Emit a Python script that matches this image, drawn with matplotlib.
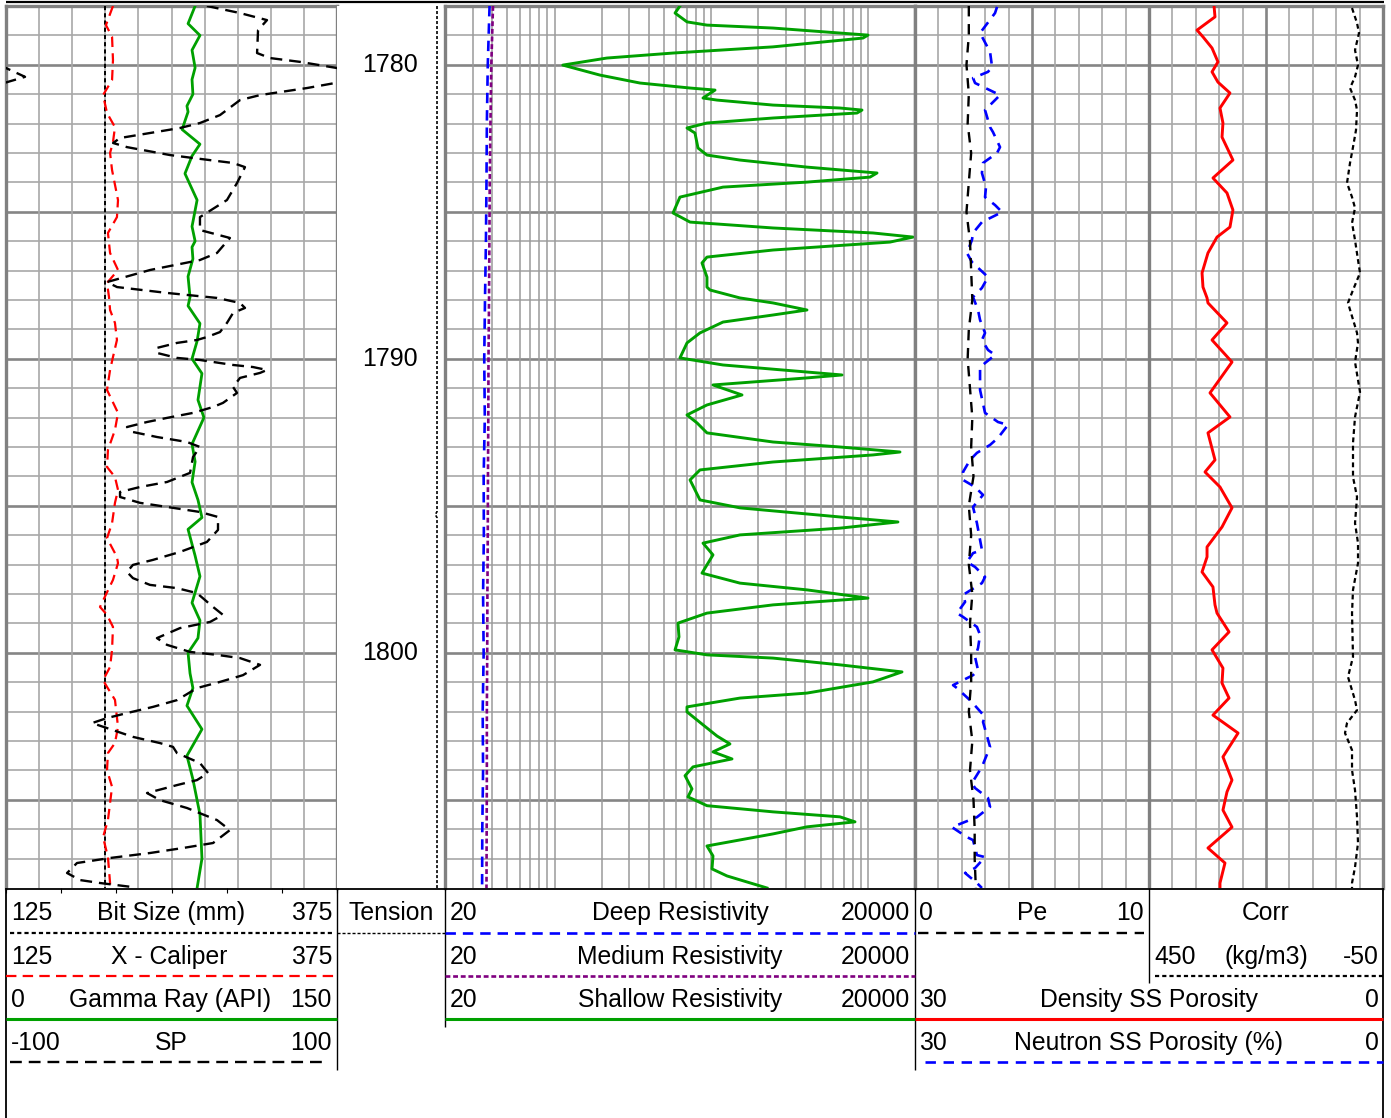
import numpy as np
import matplotlib.pyplot as plt

plt.rcParams['font.family'] = ['Liberation Sans', 'DejaVu Sans']
plt.rcParams['lines.scale_dashes'] = False
plt.rcParams['lines.solid_joinstyle'] = 'round'
plt.rcParams['lines.dash_joinstyle'] = 'round'

W, H = 1391, 1118
TOP, BOT = 6, 888            # pixel rows of the log area
DEPTH_TOP, DEPTH_BOT = 1778, 1808

# ------------------ curve data (depth in m) ------------------
GR_DEPTH = [1778.0, 1778.6, 1779.0, 1779.5, 1780.1, 1780.5, 1781.0, 1781.4, 1781.6, 1782.2,
            1782.7, 1783.1, 1783.7, 1784.6, 1785.5, 1786.0, 1786.2, 1786.6, 1787.2, 1787.9,
            1788.2, 1788.8, 1789.4, 1790.0, 1790.5, 1791.4, 1792.0, 1792.9, 1793.5, 1794.2,
            1794.8, 1795.4, 1795.8, 1796.7, 1797.4, 1798.3, 1798.9, 1799.5, 1800.0, 1800.7,
            1801.2, 1801.8, 1802.6, 1803.5, 1804.3, 1805.5, 1807.0, 1808.0]
GR = [85.7, 82.5, 87.9, 84.3, 85.7, 84.3, 84.7, 82.0, 82.5, 79.8,
      87.9, 84.3, 81.1, 86.6, 84.3, 85.7, 84.3, 84.7, 82.5, 83.4,
      82.5, 87.9, 86.6, 84.3, 88.8, 87.0, 89.7, 84.3, 85.7, 84.3,
      87.0, 88.8, 82.5, 85.7, 87.9, 84.3, 87.9, 87.0, 82.5, 83.4,
      84.7, 82.0, 88.8, 82.0, 84.7, 87.9, 88.8, 86.6]

BIT_DEPTH = [1778.0, 1808.0]
BIT_SIZE = [200.0, 200.0]

CAL_DEPTH = [1778.0, 1778.65, 1779.05, 1779.84, 1780.52, 1781.03, 1781.64, 1782.12, 1782.63, 1783.0,
             1783.58, 1784.6, 1785.18, 1785.72, 1786.4, 1786.98, 1787.42, 1787.9, 1788.34, 1788.78,
             1789.36, 1789.94, 1790.38, 1791.06, 1791.84, 1792.42, 1793.1, 1793.68, 1794.02, 1794.46,
             1794.9, 1795.59, 1796.1, 1796.74, 1796.95, 1797.52, 1798.44, 1798.71, 1799.12, 1799.9,
             1800.48, 1800.93, 1801.16, 1801.6, 1802.52, 1803.07, 1803.41, 1803.99, 1804.56, 1805.69,
             1806.27, 1806.95, 1807.83, 1808.0]
CALIPER = [205.8, 200.5, 205.1, 205.8, 205.1, 198.3, 201.3, 207.3, 205.8, 203.6,
           205.1, 209.6, 208.8, 202.0, 203.6, 209.6, 201.3, 202.8, 203.6, 207.3,
           208.8, 205.8, 203.6, 201.3, 209.6, 207.3, 202.0, 201.3, 207.3, 209.6,
           207.3, 205.1, 201.3, 208.8, 209.6, 205.8, 196.0, 201.3, 205.8, 205.1,
           203.6, 198.3, 201.3, 207.3, 209.6, 207.3, 202.0, 201.3, 205.1, 202.0,
           198.3, 202.0, 203.6, 203.6]

SP_DEPTH = [1778.00, 1778.24, 1778.48, 1778.82, 1779.60, 1779.77, 1779.90, 1780.11, 1780.41, 1780.62,
            1780.79, 1781.03, 1781.20, 1781.71, 1781.98, 1782.15, 1782.32, 1782.49, 1782.66, 1782.80,
            1783.07, 1783.17, 1783.34, 1783.48, 1784.02, 1784.60, 1785.18, 1785.62, 1785.89, 1786.40,
            1786.64, 1786.98, 1787.39, 1787.56, 1787.76, 1787.93, 1788.10, 1788.27, 1788.44, 1788.78,
            1789.09, 1789.26, 1789.36, 1789.46, 1789.63, 1789.80, 1789.97, 1790.04, 1790.21, 1790.28,
            1790.38, 1790.48, 1790.65, 1790.96, 1791.16, 1791.50, 1791.64, 1791.84, 1792.01, 1792.15,
            1792.32, 1792.49, 1792.66, 1792.83, 1793.00, 1793.34, 1793.88, 1794.19, 1794.36, 1794.53,
            1794.70, 1794.90, 1795.07, 1795.21, 1795.38, 1795.82, 1796.23, 1796.57, 1796.84, 1797.01,
            1797.25, 1797.46, 1797.69, 1797.80, 1797.97, 1798.44, 1798.71, 1798.95, 1799.16, 1799.50,
            1799.73, 1799.97, 1800.07, 1800.18, 1800.41, 1800.76, 1800.99, 1801.20, 1801.61, 1801.84,
            1802.05, 1802.22, 1802.39, 1802.56, 1802.86, 1803.07, 1803.20, 1803.41, 1803.75, 1804.09,
            1804.33, 1804.50, 1804.77, 1805.01, 1805.28, 1805.69, 1806.03, 1806.47, 1806.64, 1806.81,
            1806.98, 1807.15, 1807.49, 1807.73, 1807.83, 1807.97]
SP = [21.4, 41.4, 57.7, 52.3, 51.7, 59.5, 77.6, 100.0, 111.5, 98.8,
      81.9, 53.5, 41.4, 29.3, 17.2, 5.1, -13.0, -31.1, -35.3, -26.9,
      -0.9, 13.0, 37.2, 44.4, 39.6, 33.5, 17.2, 17.2, 35.3, 27.5,
      17.2, -13.0, -39.0, -32.9, -2.7, 27.5, 41.4, 44.4, 37.2, 33.5,
      29.3, 21.4, 15.4, 3.3, -8.8, -8.8, 3.3, 17.2, 37.2, 49.2,
      57.7, 53.5, 41.4, 37.2, 39.6, 31.1, 25.1, 13.0, -2.7, -14.8,
      -26.9, -23.3, -8.8, 9.4, 17.2, 13.0, 11.2, -2.7, -19.0, -31.1,
      -31.1, -19.0, 0.9, 17.2, 28.1, 28.1, 21.4, 5.1, -11.2, -23.3,
      -26.9, -23.3, -13.0, 3.3, 15.4, 25.1, 31.1, 23.3, 5.1, -8.8,
      -2.7, 11.2, 27.5, 41.4, 53.5, 43.2, 29.3, 15.4, 3.3, -11.2,
      -26.9, -39.0, -48.0, -39.0, -23.3, -7.0, 0.9, 3.3, 17.2, 22.1,
      15.4, 3.3, -14.8, -7.0, 9.4, 27.5, 35.3, 25.1, 6.9, -13.0,
      -37.2, -57.1, -63.1, -55.3, -43.2, -23.3]

TENSION_DEPTH = [1778.0, 1795.2, 1795.3, 1795.4, 1808.0]
TENSION = [92.6, 92.6, 91.0, 92.6, 92.6]

SHAL_DEPTH = [1778.00, 1778.24, 1778.54, 1778.65, 1778.75, 1778.92, 1778.99, 1779.09, 1779.39, 1779.60,
              1779.77, 1780.01, 1780.35, 1780.62, 1780.79, 1780.86, 1781.13, 1781.20, 1781.37, 1781.47,
              1781.54, 1781.64, 1781.81, 1781.98, 1782.15, 1782.32, 1782.83, 1783.07, 1783.24, 1783.48,
              1783.68, 1783.82, 1783.99, 1784.16, 1784.50, 1785.04, 1785.35, 1785.55, 1785.72, 1785.86,
              1786.03, 1786.30, 1786.54, 1786.74, 1787.22, 1787.56, 1787.66, 1787.93, 1788.10, 1788.34,
              1788.51, 1788.75, 1789.12, 1789.46, 1789.97, 1790.21, 1790.45, 1790.55, 1790.65, 1790.89,
              1791.23, 1791.57, 1791.91, 1792.18, 1792.52, 1792.83, 1793.00, 1793.17, 1793.27, 1793.51,
              1793.78, 1794.12, 1794.80, 1795.07, 1795.38, 1795.55, 1795.76, 1795.99, 1796.27, 1796.67,
              1797.29, 1797.63, 1797.86, 1798.14, 1798.37, 1798.65, 1798.99, 1799.46, 1799.90, 1800.07,
              1800.18, 1800.41, 1800.65, 1800.99, 1801.37, 1801.54, 1801.84, 1802.01, 1802.45, 1802.83,
              1803.10, 1803.37, 1803.61, 1803.88, 1804.18, 1804.63, 1804.90, 1805.20, 1805.41, 1805.58,
              1805.75, 1805.92, 1806.16, 1806.57, 1806.91, 1807.35, 1807.59, 1808.00]
SHALLOW = [632, 588, 701, 940, 2482, 6640, 10020, 9312, 2482, 571,
           216, 113, 195, 351, 733, 1058, 887, 1089, 2482, 6640,
           9175, 8527, 2482, 940, 701, 788, 824, 940, 1527, 4088,
           11440, 10320, 4088, 1190, 632, 571, 733, 2482, 10780, 19420,
           13850, 2482, 940, 874, 940, 940, 983, 1527, 2482, 4088,
           2482, 1190, 848, 701, 632, 1190, 4088, 6840, 4088, 1027,
           1573, 940, 701, 812, 940, 2482, 6640, 16040, 10780, 2482,
           848, 733, 848, 1527, 6640, 15570, 6640, 1527, 887, 1027,
           874, 1527, 4088, 10020, 2482, 940, 614, 623, 588, 940,
           2482, 6640, 16520, 10780, 4088, 1527, 701, 701, 887, 1089,
           1318, 1027, 1358, 766, 681, 754, 711, 940, 2482, 6640,
           8280, 4088, 2482, 940, 1027, 1012, 1262, 2272]

RES_DEPTH = [1778, 1780, 1782, 1784, 1786, 1788, 1790, 1792, 1794, 1796, 1798, 1800, 1802, 1804, 1806, 1808]
DEEP = [38.5, 37.5, 37.0, 36.8, 36.5, 36.0, 35.6, 35.9, 35.3, 35.4, 35.0, 35.3, 34.8, 35.0, 34.6, 34.5]
MEDIUM = [40.5, 39.5, 39.0, 38.6, 38.4, 38.2, 37.9, 37.8, 37.6, 37.5, 37.3, 37.2, 37.0, 37.0, 36.9, 36.8]

PE_DEPTH = list(range(1778, 1809))
PE = [2.30, 2.30, 2.20, 2.30, 2.25, 2.40, 2.30, 2.20, 2.35, 2.40, 2.45, 2.30, 2.25, 2.35, 2.45, 2.40,
      2.50, 2.30, 2.40, 2.30, 2.45, 2.35, 2.40, 2.40, 2.30, 2.45, 2.35, 2.50, 2.55, 2.55, 2.60]

NPHI_DEPTH = [1778.03, 1778.24, 1778.92, 1779.56, 1780.07, 1780.24, 1780.45, 1780.62, 1781.03, 1781.54,
              1782.12, 1782.29, 1782.80, 1783.00, 1783.34, 1783.68, 1784.16, 1784.50, 1784.77, 1785.01,
              1785.35, 1785.72, 1785.96, 1786.40, 1786.71, 1787.22, 1787.59, 1787.90, 1788.34, 1788.68,
              1789.12, 1789.36, 1789.70, 1789.87, 1790.28, 1791.06, 1791.84, 1792.15, 1792.25, 1792.69,
              1792.93, 1793.20, 1793.44, 1793.85, 1794.12, 1794.36, 1794.63, 1795.04, 1795.59, 1796.16,
              1796.50, 1796.61, 1796.91, 1797.08, 1797.42, 1797.63, 1798.03, 1798.27, 1798.65, 1798.78,
              1799.12, 1799.39, 1799.84, 1800.14, 1800.59, 1800.76, 1801.10, 1801.20, 1801.65, 1802.18,
              1802.35, 1803.20, 1803.88, 1804.43, 1804.60, 1804.94, 1805.24, 1805.59, 1805.93, 1806.27,
              1806.37, 1806.88, 1806.95, 1807.32, 1807.49, 1807.83, 1808.00]
NPHI = [24.74, 24.87, 25.83, 25.19, 25.06, 25.32, 26.28, 26.15, 24.55, 25.51,
        25.19, 25.00, 24.55, 24.74, 25.64, 25.71, 25.45, 25.51, 24.87, 24.42,
        25.71, 26.28, 26.35, 26.67, 26.35, 25.32, 25.71, 26.28, 25.96, 25.83,
        25.51, 25.71, 25.32, 24.87, 25.83, 25.83, 25.51, 24.68, 24.04, 24.68,
        25.19, 26.03, 26.47, 26.92, 26.92, 26.15, 25.64, 26.28, 26.03, 25.83,
        25.71, 26.28, 26.67, 26.15, 25.51, 25.71, 26.92, 26.79, 27.31, 26.92,
        26.03, 25.83, 25.96, 26.15, 25.96, 26.28, 27.56, 27.31, 26.40, 25.51,
        25.64, 25.19, 25.71, 26.35, 26.15, 25.32, 25.19, 26.03, 27.63, 26.67,
        26.28, 26.03, 25.51, 26.15, 26.79, 26.03, 25.71]

DPHI_DEPTH = [1778.00, 1778.37, 1778.82, 1779.05, 1779.43, 1779.90, 1780.24, 1780.59, 1780.96, 1781.47,
              1781.98, 1782.46, 1783.24, 1783.85, 1784.36, 1784.94, 1785.52, 1785.86, 1786.40, 1787.08,
              1787.56, 1787.93, 1788.10, 1788.78, 1789.36, 1790.11, 1791.16, 1791.98, 1792.52, 1793.44,
              1793.85, 1794.36, 1795.07, 1795.72, 1796.40, 1796.74, 1797.25, 1797.76, 1798.37, 1798.65,
              1799.29, 1799.90, 1800.52, 1801.03, 1801.54, 1802.12, 1802.73, 1803.54, 1804.33, 1804.73,
              1805.35, 1805.93, 1806.64, 1807.15, 1807.83, 1808.00]
DPHI = [10.83, 10.77, 11.92, 11.54, 10.96, 10.58, 10.96, 10.58, 9.81, 10.45,
        10.26, 10.32, 9.62, 10.90, 10.00, 9.62, 9.81, 10.64, 11.22, 11.60,
        11.54, 11.28, 11.22, 10.00, 10.96, 9.68, 11.09, 9.81, 11.22, 10.77,
        11.41, 10.45, 9.68, 10.32, 11.28, 11.28, 11.60, 10.90, 10.77, 10.64,
        9.87, 10.96, 10.26, 10.32, 9.87, 10.90, 9.29, 10.26, 9.68, 10.00,
        10.26, 9.68, 11.22, 10.13, 10.45, 10.45]

CORR_DEPTH = [1778.07, 1778.58, 1778.92, 1779.50, 1780.01, 1780.41, 1780.79, 1781.20, 1781.54, 1782.22,
              1782.80, 1783.34, 1784.02, 1784.50, 1784.87, 1785.38, 1785.96, 1786.64, 1787.08, 1787.66,
              1788.10, 1789.12, 1789.46, 1790.11, 1791.13, 1791.98, 1792.86, 1794.02, 1794.70, 1795.59,
              1796.27, 1796.95, 1797.86, 1798.65, 1800.14, 1800.82, 1801.61, 1801.95, 1802.39, 1802.73,
              1803.31, 1803.99, 1804.67, 1805.59, 1806.47, 1807.29, 1807.83, 1808.00]
CORR = [16.2, 5.5, 1.3, 9.8, 3.4, 9.8, 20.5, 9.8, 5.5, 7.7,
        14.1, 20.5, 26.9, 16.2, 9.8, 16.2, 9.8, 3.4, -0.9, 14.1,
        24.8, 5.5, 3.4, 9.8, -0.9, 9.8, 14.1, 14.1, 5.5, 9.8,
        3.4, 3.4, 14.1, 16.2, 14.1, 24.8, 9.8, 5.5, 26.9, 31.2,
        16.2, 16.2, 9.8, 5.5, 3.4, 9.8, 16.2, 16.2]

DEPTH_LABELS = [1780, 1790, 1800]

# ------------------ style ------------------
GREEN = '#00a000'
MINOR = '#a8a8a8'
MAJOR = '#858585'
BORDER = '#808080'
FS = 17.8
LONG_DASH = (8.5, 5)
SHORT_DASH = (3, 2.2)

fig = plt.figure(figsize=(W / 100, H / 100), dpi=100)


def no_ticks(ax):
    ax.tick_params(left=False, labelleft=False, right=False, labelright=False,
                   bottom=False, labelbottom=False, top=False, labeltop=False)


def track(x0, x1, border=True):
    ax = fig.add_axes([x0 / W, 1 - BOT / H, (x1 - x0) / W, (BOT - TOP) / H])
    ax.set_ylim(DEPTH_BOT, DEPTH_TOP)
    no_ticks(ax)
    ax.spines['bottom'].set_visible(False)
    for side in ['left', 'right', 'top']:
        ax.spines[side].set_visible(border)
        ax.spines[side].set_color(BORDER)
        ax.spines[side].set_linewidth(2.4)
    return ax


def overlay(base, x0=None, x1=None):
    if x0 is None:
        o = base.twiny()
    else:
        o = fig.add_axes([x0 / W, 1 - BOT / H, (x1 - x0) / W, (BOT - TOP) / H], sharey=base)
    o.patch.set_visible(False)
    for s in o.spines.values():
        s.set_visible(False)
    no_ticks(o)
    return o


def depth_grid(ax):
    for d in range(DEPTH_TOP + 1, DEPTH_BOT):
        major = d % 5 == 0
        ax.axhline(d, color=MAJOR if major else MINOR, lw=1.9 if major else 1.2, zorder=1)


# ------------------ track 1: GR / caliper / SP ------------------
ax1 = track(6, 337)
ax1.set_xlim(0, 150)
depth_grid(ax1)
for v in np.arange(15, 150, 15):
    ax1.axvline(v, color=MINOR, lw=1.2, zorder=1)
ax1.plot(GR, GR_DEPTH, color=GREEN, lw=2, zorder=3)

ax1c = overlay(ax1)
ax1c.set_xlim(125, 375)
ax1c.plot(BIT_SIZE, BIT_DEPTH, color='black', lw=1.4, dashes=SHORT_DASH)
ax1c.plot(CALIPER, CAL_DEPTH, color='red', lw=1.6, dashes=(7.5, 4.5))

ax1s = overlay(ax1)
ax1s.set_xlim(-100, 100)
sp = np.array(SP)
ax1s.plot(sp, SP_DEPTH, color='black', lw=1.7, dashes=LONG_DASH)
ax1s.plot(sp - 200, SP_DEPTH, color='black', lw=1.7, dashes=LONG_DASH)  # wrapped backup

# ------------------ depth track ------------------
axd = track(337, 445, border=False)
axd.set_xlim(0, 100)
for d in DEPTH_LABELS:
    axd.text(49, d, str(d), ha='center', va='center', fontsize=18)
axd.plot(TENSION, TENSION_DEPTH, color='black', lw=1.2, dashes=(2.2, 1.4))

# ------------------ track 3: resistivity ------------------
ax3 = track(445, 915)
ax3.set_xscale('log')
ax3.set_xlim(20, 20000)
no_ticks(ax3)
ax3.minorticks_off()
depth_grid(ax3)
for dec in [10, 100, 1000]:
    for m in range(1, 10):
        v = dec * m
        if 20 < v < 20000:
            ax3.axvline(v, color='#9a9a9a', lw=1.1, zorder=1)
ax3.axvline(10000, color='#9a9a9a', lw=1.1, zorder=1)
ax3.plot(SHALLOW, SHAL_DEPTH, color=GREEN, lw=2.1, zorder=3)
ax3.plot(DEEP, RES_DEPTH, color='blue', lw=1.9, dashes=(7.5, 5), zorder=3)
ax3.plot(MEDIUM, RES_DEPTH, color='#800080', lw=1.9, dashes=(3.5, 2), zorder=3)

# ------------------ tracks 4-5: porosity / Pe / Corr ------------------
ax4 = track(915, 1383)
ax4.set_xlim(30, 0)
depth_grid(ax4)
for i in range(1, 20):
    v = 30 - 1.5 * i
    if i == 10:
        ax4.axvline(v, color=BORDER, lw=2.4, zorder=1)
    elif i % 5 == 0:
        ax4.axvline(v, color=MAJOR, lw=1.9, zorder=1)
    else:
        ax4.axvline(v, color=MINOR, lw=1.2, zorder=1)
ax4.plot(DPHI, DPHI_DEPTH, color='red', lw=2.1, zorder=3)
ax4.plot(NPHI, NPHI_DEPTH, color='blue', lw=1.9, dashes=(7.5, 5.5), zorder=3)

axpe = overlay(ax4, 915, 1149)
axpe.set_xlim(0, 10)
axpe.plot(PE, PE_DEPTH, color='black', lw=1.7, dashes=(7.5, 5.5))

axco = overlay(ax4, 1149, 1383)
axco.set_xlim(450, -50)
axco.plot(CORR, CORR_DEPTH, color='black', lw=1.6, dashes=(3.5, 2.5))

# ------------------ header (pixel coordinates) ------------------
hd = fig.add_axes([0, 0, 1, 1], zorder=10)
hd.set_xlim(0, W)
hd.set_ylim(H, 0)
hd.axis('off')


def hline(x0, x1, y, **kw):
    hd.plot([x0, x1], [y, y], solid_capstyle='butt', dash_capstyle='butt', **kw)


def vline(x, y0, y1, **kw):
    hd.plot([x, x], [y0, y1], color='black', solid_capstyle='butt', **kw)


def label_row(y, left, mid, right, xl, xm, xr):
    if left:
        hd.text(xl, y, left, ha='left', va='center', fontsize=FS)
    if mid:
        hd.text(xm, y, mid, ha='center', va='center', fontsize=FS)
    if right:
        hd.text(xr, y, right, ha='right', va='center', fontsize=FS)


# frame
hline(6, 1384, 2, color='black', lw=1.6)
hline(6, 1384, 888.5, color='black', lw=1.3)
vline(6, 888, 1118, lw=1.3)
vline(1383, 888, 1118, lw=1.3)
vline(337, 888, 1070, lw=1.0)
vline(445, 888, 1027, lw=1.0)
vline(915, 888, 1070, lw=1.0)
vline(1149, 888, 983, lw=1.0)

ROWS = [913, 957, 1000, 1043]
LINES = [933, 976, 1019, 1062]

# track 1
label_row(ROWS[0], '125', 'Bit Size (mm)', '375', 11, 171, 332)
hline(10, 334, LINES[0], color='black', lw=1.6, dashes=SHORT_DASH)
label_row(ROWS[1], '125', 'X - Caliper', '375', 11, 169, 332)
hline(6, 337, LINES[1], color='red', lw=1.6, dashes=(7.5, 4.5))
label_row(ROWS[2], '0', 'Gamma Ray (API)', '150', 11, 170, 332)
hline(6, 337, LINES[2], color=GREEN, lw=2.2)
label_row(ROWS[3], '-100', 'SP', '100', 11, 171, 332)
hline(10, 328, LINES[3], color='black', lw=1.7, dashes=LONG_DASH)

# depth track
label_row(ROWS[0], None, 'Tension', None, 0, 391, 0)
hline(337, 445, LINES[0], color='black', lw=1.0, dashes=(2.2, 1.4))

# track 3
label_row(ROWS[0], '20', 'Deep Resistivity', '20000', 450, 680, 910)
hline(445, 915, LINES[0], color='blue', lw=1.9, dashes=(7.5, 5))
label_row(ROWS[1], '20', 'Medium Resistivity', '20000', 450, 680, 910)
hline(445, 915, LINES[1], color='#800080', lw=1.9, dashes=(3.5, 2))
label_row(ROWS[2], '20', 'Shallow Resistivity', '20000', 450, 680, 910)
hline(445, 915, LINES[2], color=GREEN, lw=2.2)

# track 4 / 5
label_row(ROWS[0], '0', 'Pe', '10', 919, 1032, 1144)
hline(918, 1144, LINES[0], color='black', lw=1.7, dashes=(7.5, 5.5))
label_row(ROWS[0], None, 'Corr', None, 0, 1266, 0)
label_row(ROWS[1], '450', '(kg/m3)', '-50', 1154, 1266, 1379)
hline(1155, 1383, LINES[1], color='black', lw=1.6, dashes=SHORT_DASH)
label_row(ROWS[2], '30', 'Density SS Porosity', '0', 919, 1149, 1379)
hline(915, 1383, LINES[2], color='red', lw=2.2)
label_row(ROWS[3], '30', 'Neutron SS Porosity (%)', '0', 919, 1148, 1379)
hline(925, 1383, LINES[3], color='blue', lw=1.9, dashes=(7.5, 5.5))

fig.savefig('out.png', dpi=100)
